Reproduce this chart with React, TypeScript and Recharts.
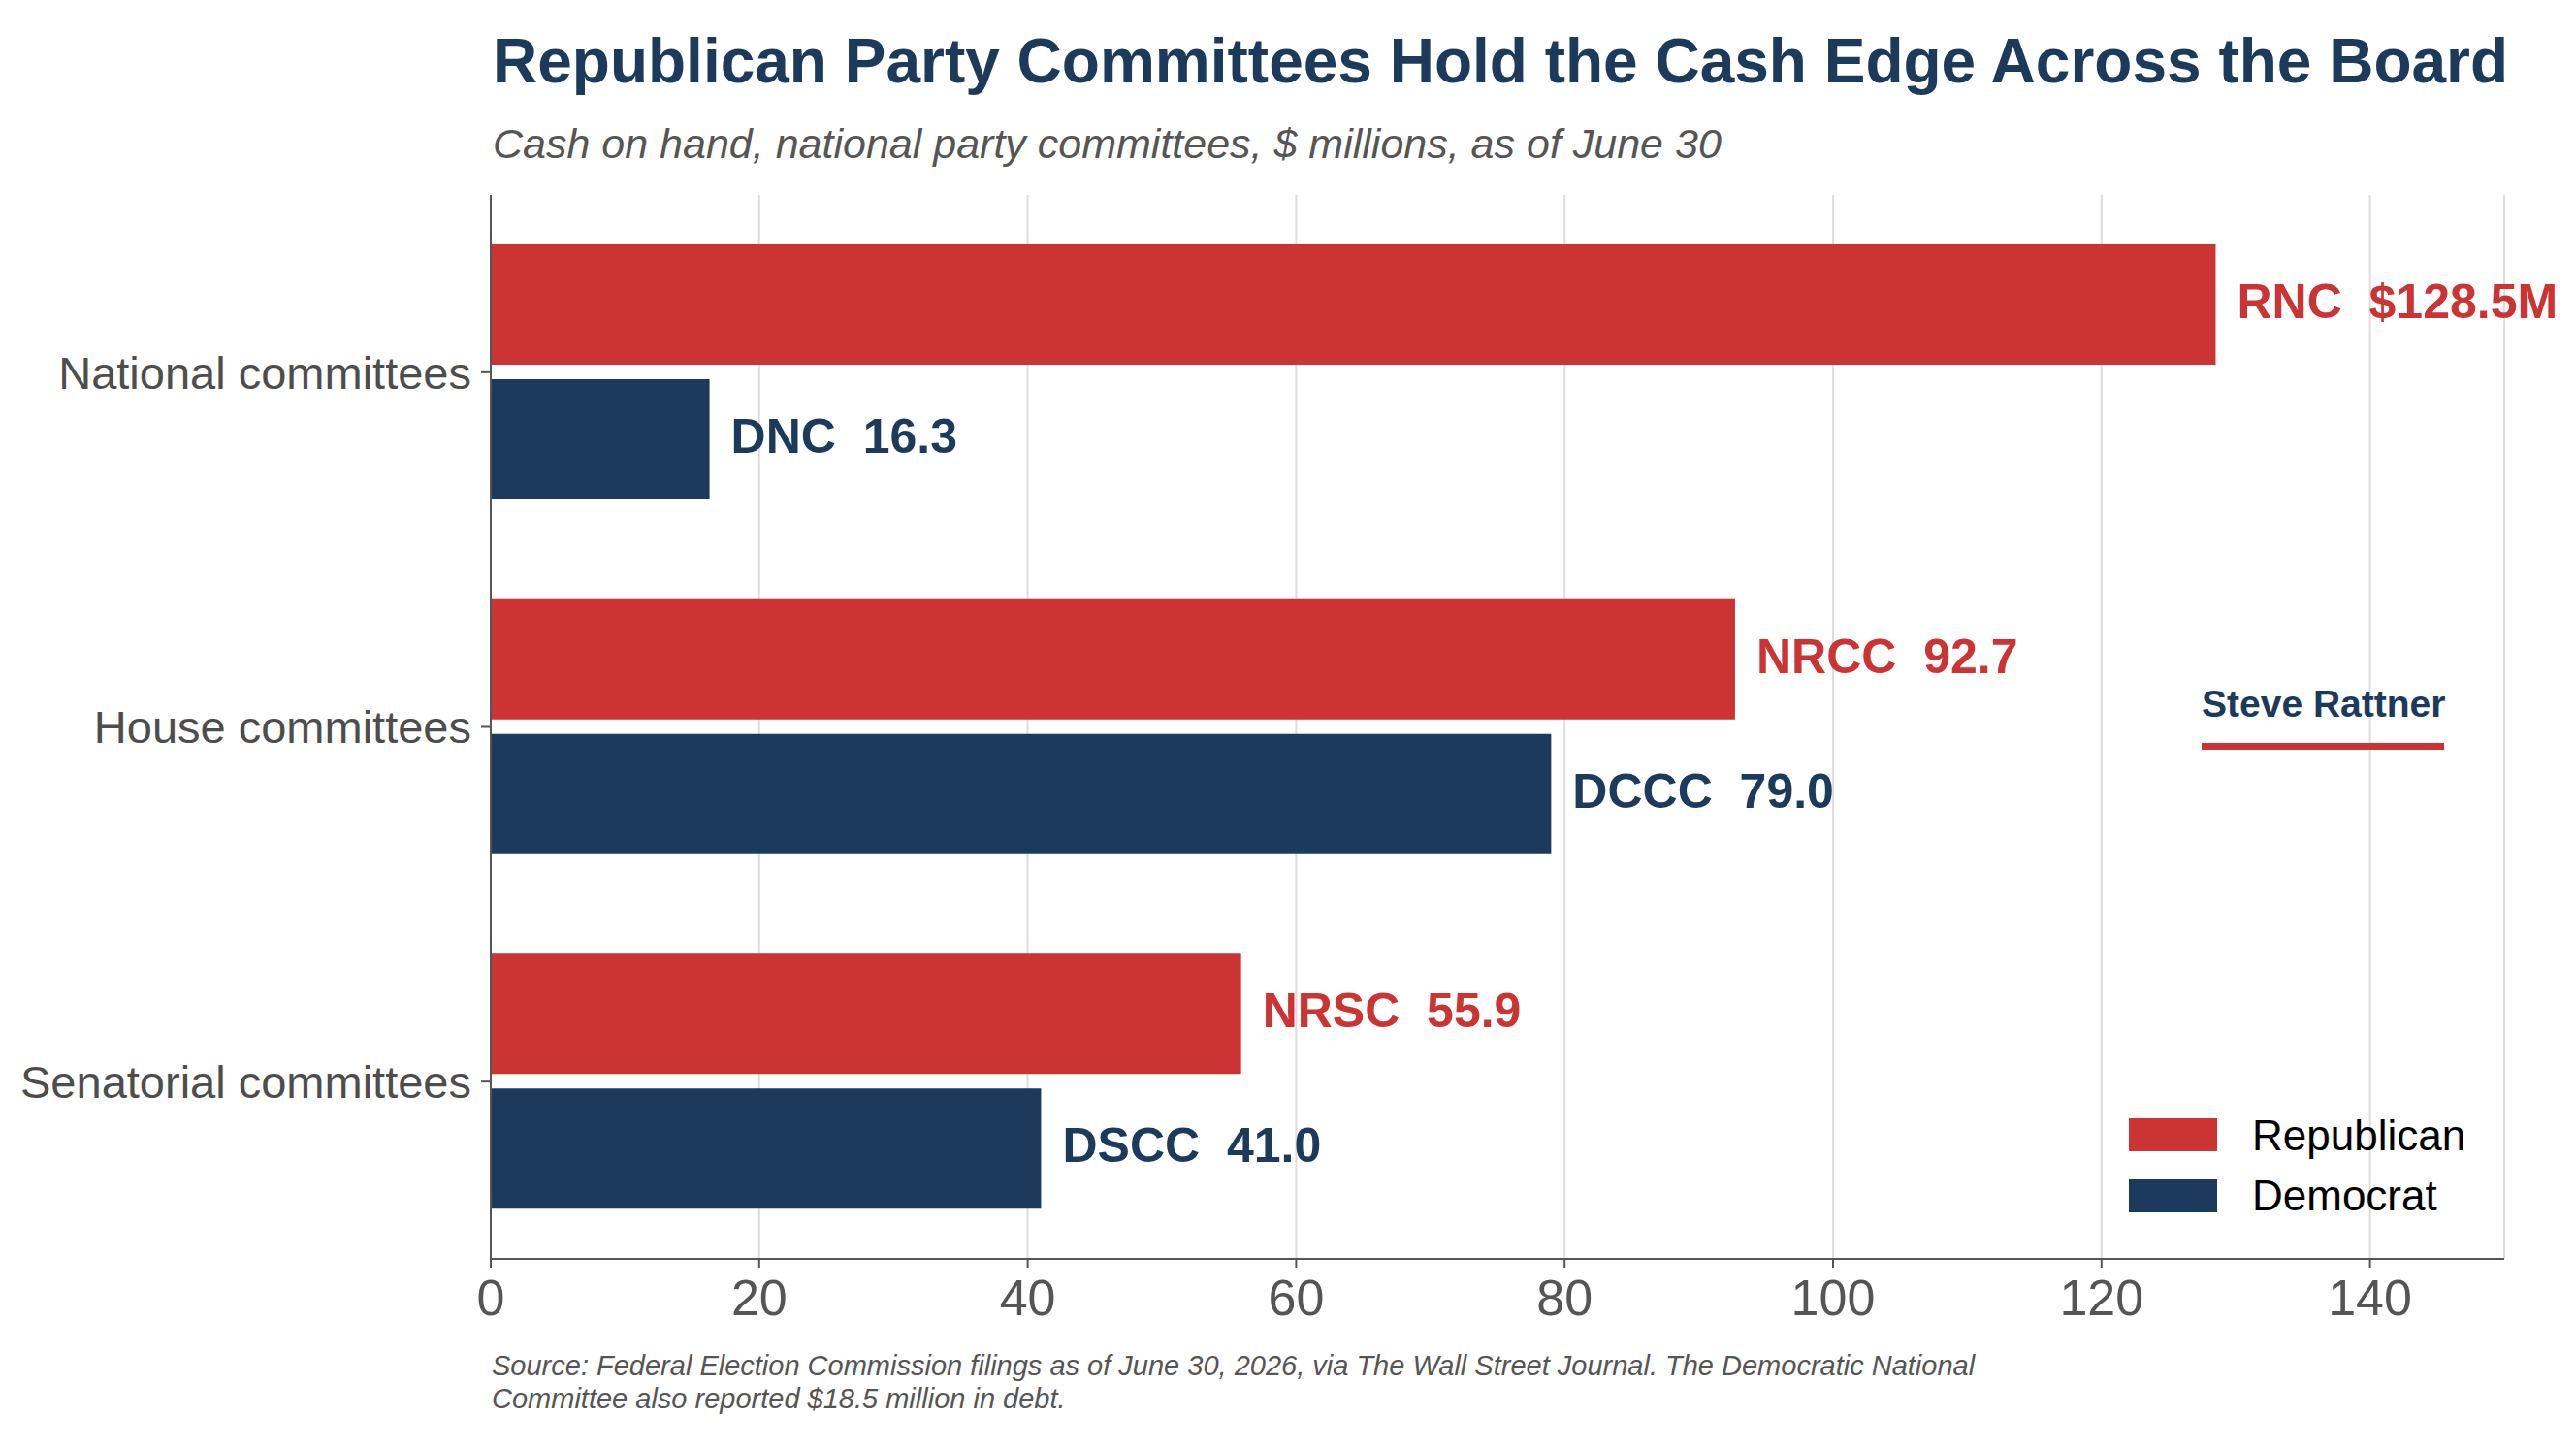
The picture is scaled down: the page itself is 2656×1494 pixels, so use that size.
import React from "react";
import { BarChart, Bar, XAxis, YAxis, CartesianGrid, LabelList } from "recharts";

const categories = ["National committees", "House committees", "Senatorial committees"];
const republicanValues = [128.5, 92.7, 55.9];
const democratValues = [16.3, 79.0, 41.0];
const republicanCommittees = ["RNC", "NRCC", "NRSC"];
const democratCommittees = ["DNC", "DCCC", "DSCC"];
const republicanValueLabels = ["$128.5M", "92.7", "55.9"];
const democratValueLabels = ["16.3", "79.0", "41.0"];
const xTicks = [0, 20, 40, 60, 80, 100, 120, 140];
const seriesNames = ["Republican", "Democrat"];

const RED = "#CC3333";
const NAVY = "#1B3A5C";
const FONT = "'Liberation Sans', Arial, sans-serif";

const data = categories.map((c, i) => ({
  category: c,
  rep: republicanValues[i],
  dem: democratValues[i],
}));

const makeLabel = (names: string[], values: string[], color: string) => (props: any) => {
  const { x, y, width, height, index } = props;
  const tx = Number(x) + Number(width) + 22;
  const ty = Number(y) + Number(height) / 2 - 3;
  return (
    <text
      x={tx}
      y={ty}
      fill={color}
      fontSize={50}
      fontWeight="bold"
      fontFamily={FONT}
      dominantBaseline="central"
      style={{ whiteSpace: "pre" }}
    >
      {`${names[index]}  ${values[index]}`}
    </text>
  );
};

export default function App() {
  return (
    <div
      style={{
        position: "absolute",
        left: 0,
        top: 0,
        width: 2656,
        height: 1494,
        background: "#ffffff",
        fontFamily: FONT,
      }}
    >
      <div style={{ position: "absolute", left: 0, top: 0 }}>
        <BarChart
          width={2656}
          height={1494}
          data={data}
          layout="vertical"
          margin={{ top: 201, right: 74, bottom: 96, left: 0 }}
          barCategoryGap={51}
          barGap={15}
        >
          <CartesianGrid horizontal={false} vertical={true} stroke="#dddddd" strokeWidth={2} />
          <XAxis
            type="number"
            domain={[0, 150]}
            ticks={xTicks}
            height={100}
            tickSize={9}
            tickMargin={12}
            axisLine={{ stroke: "#555555", strokeWidth: 2 }}
            tickLine={{ stroke: "#555555", strokeWidth: 2 }}
            tick={{ fill: "#555555", fontSize: 52, fontFamily: FONT }}
            allowDataOverflow
          />
          <YAxis
            type="category"
            dataKey="category"
            width={506}
            tickSize={10}
            tickMargin={10}
            axisLine={{ stroke: "#555555", strokeWidth: 2 }}
            tickLine={{ stroke: "#555555", strokeWidth: 2 }}
            tick={{ fill: "#4d4d4d", fontSize: 47, fontFamily: FONT }}
          />
          <Bar dataKey="rep" name={seriesNames[0]} fill={RED} isAnimationActive={false}>
            <LabelList dataKey="rep" content={makeLabel(republicanCommittees, republicanValueLabels, RED)} />
          </Bar>
          <Bar dataKey="dem" name={seriesNames[1]} fill={NAVY} isAnimationActive={false}>
            <LabelList dataKey="dem" content={makeLabel(democratCommittees, democratValueLabels, NAVY)} />
          </Bar>
        </BarChart>
      </div>
      <svg
        width={2656}
        height={1494}
        style={{ position: "absolute", left: 0, top: 0, pointerEvents: "none" }}
      >
        <text x={508} y={85} fontSize={64} fontWeight="bold" fill={NAVY} fontFamily={FONT}>
          Republican Party Committees Hold the Cash Edge Across the Board
        </text>
        <text x={508} y={163} fontSize={43} fontStyle="italic" fill="#555555" fontFamily={FONT}>
          Cash on hand, national party committees, $ millions, as of June 30
        </text>
        <text x={2270} y={739} fontSize={39} fontWeight="bold" fill={NAVY} fontFamily={FONT}>
          Steve Rattner
        </text>
        <rect x={2270} y={766} width={250} height={7} fill={RED} />
        <rect x={2195} y={1153} width={91} height={34} fill={RED} />
        <text x={2322} y={1186} fontSize={44} fill="#000000" fontFamily={FONT}>
          {seriesNames[0]}
        </text>
        <rect x={2195} y={1216} width={91} height={34} fill={NAVY} />
        <text x={2322} y={1248} fontSize={44} fill="#000000" fontFamily={FONT}>
          {seriesNames[1]}
        </text>
        <text x={507} y={1418} fontSize={29} fontStyle="italic" fill="#555555" fontFamily={FONT}>
          Source: Federal Election Commission filings as of June 30, 2026, via The Wall Street Journal. The Democratic National
        </text>
        <text x={507} y={1452} fontSize={29} fontStyle="italic" fill="#555555" fontFamily={FONT}>
          Committee also reported $18.5 million in debt.
        </text>
      </svg>
    </div>
  );
}
